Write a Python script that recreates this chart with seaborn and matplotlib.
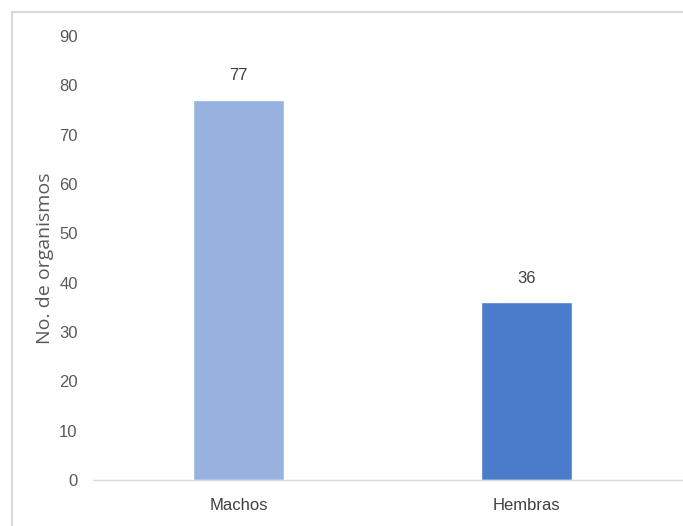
import matplotlib
matplotlib.use("Agg")
import matplotlib.pyplot as plt
import seaborn as sns
import pandas as pd
from matplotlib.patches import Rectangle

categories = ["Machos", "Hembras"]
values = [77, 36]
bar_colors = ["#98b2e0", "#4b7bcb"]
y_ticks = [0, 10, 20, 30, 40, 50, 60, 70, 80, 90]
y_label = "No. de organismos"

sns.set_theme(style="white")
plt.rcParams['font.family'] = ['Liberation Sans', 'DejaVu Sans']

W, H = 683, 526
fig = plt.figure(figsize=(W / 100, H / 100), dpi=100)

# outer frame (light gray border top/left)
fig.patches.append(Rectangle((12 / W, -0.1), 1.2, 1 - 12 / H + 0.1, transform=fig.transFigure,
                             fill=False, edgecolor="#d9d9d9", linewidth=1.5))

left, right = 93, 683
top, bottom = 36, 480
ax = fig.add_axes([left / W, 1 - bottom / H, (right - left) / W, (bottom - top) / H])

df = pd.DataFrame({"cat": categories, "val": values})
sns.barplot(data=df, x="cat", y="val", hue="cat", palette=bar_colors, width=0.315,
            legend=False, ax=ax, saturation=1)

ax.set_ylim(0, 90)
ax.set_xlim(-0.504, 1.541)
ax.set_yticks(y_ticks)
ax.set_yticklabels([str(t) for t in y_ticks], color="#595959", fontsize=12)
ax.set_xticks(range(len(categories)))
ax.set_xticklabels(categories, color="#404040", fontsize=12)
ax.tick_params(axis="y", length=0, pad=11)
ax.tick_params(axis="x", length=0, pad=13)
ax.set_xlabel("")
ax.set_ylabel("")
for s in ["top", "right", "left"]:
    ax.spines[s].set_visible(False)
ax.spines["bottom"].set_color("#d9d9d9")
ax.spines["bottom"].set_linewidth(1.0)
ax.grid(False)

for i, v in enumerate(values):
    ax.annotate(str(v), (i, v), xytext=(0, 12), textcoords="offset points",
                ha="center", va="bottom", fontsize=12, color="#404040")

fig.text(45 / W, 1 - 258 / H, y_label, rotation=90, ha="center", va="center",
         fontsize=14, color="#595959", family=["Open Sans", "DejaVu Sans"])

fig.savefig("out.png", dpi=100)
